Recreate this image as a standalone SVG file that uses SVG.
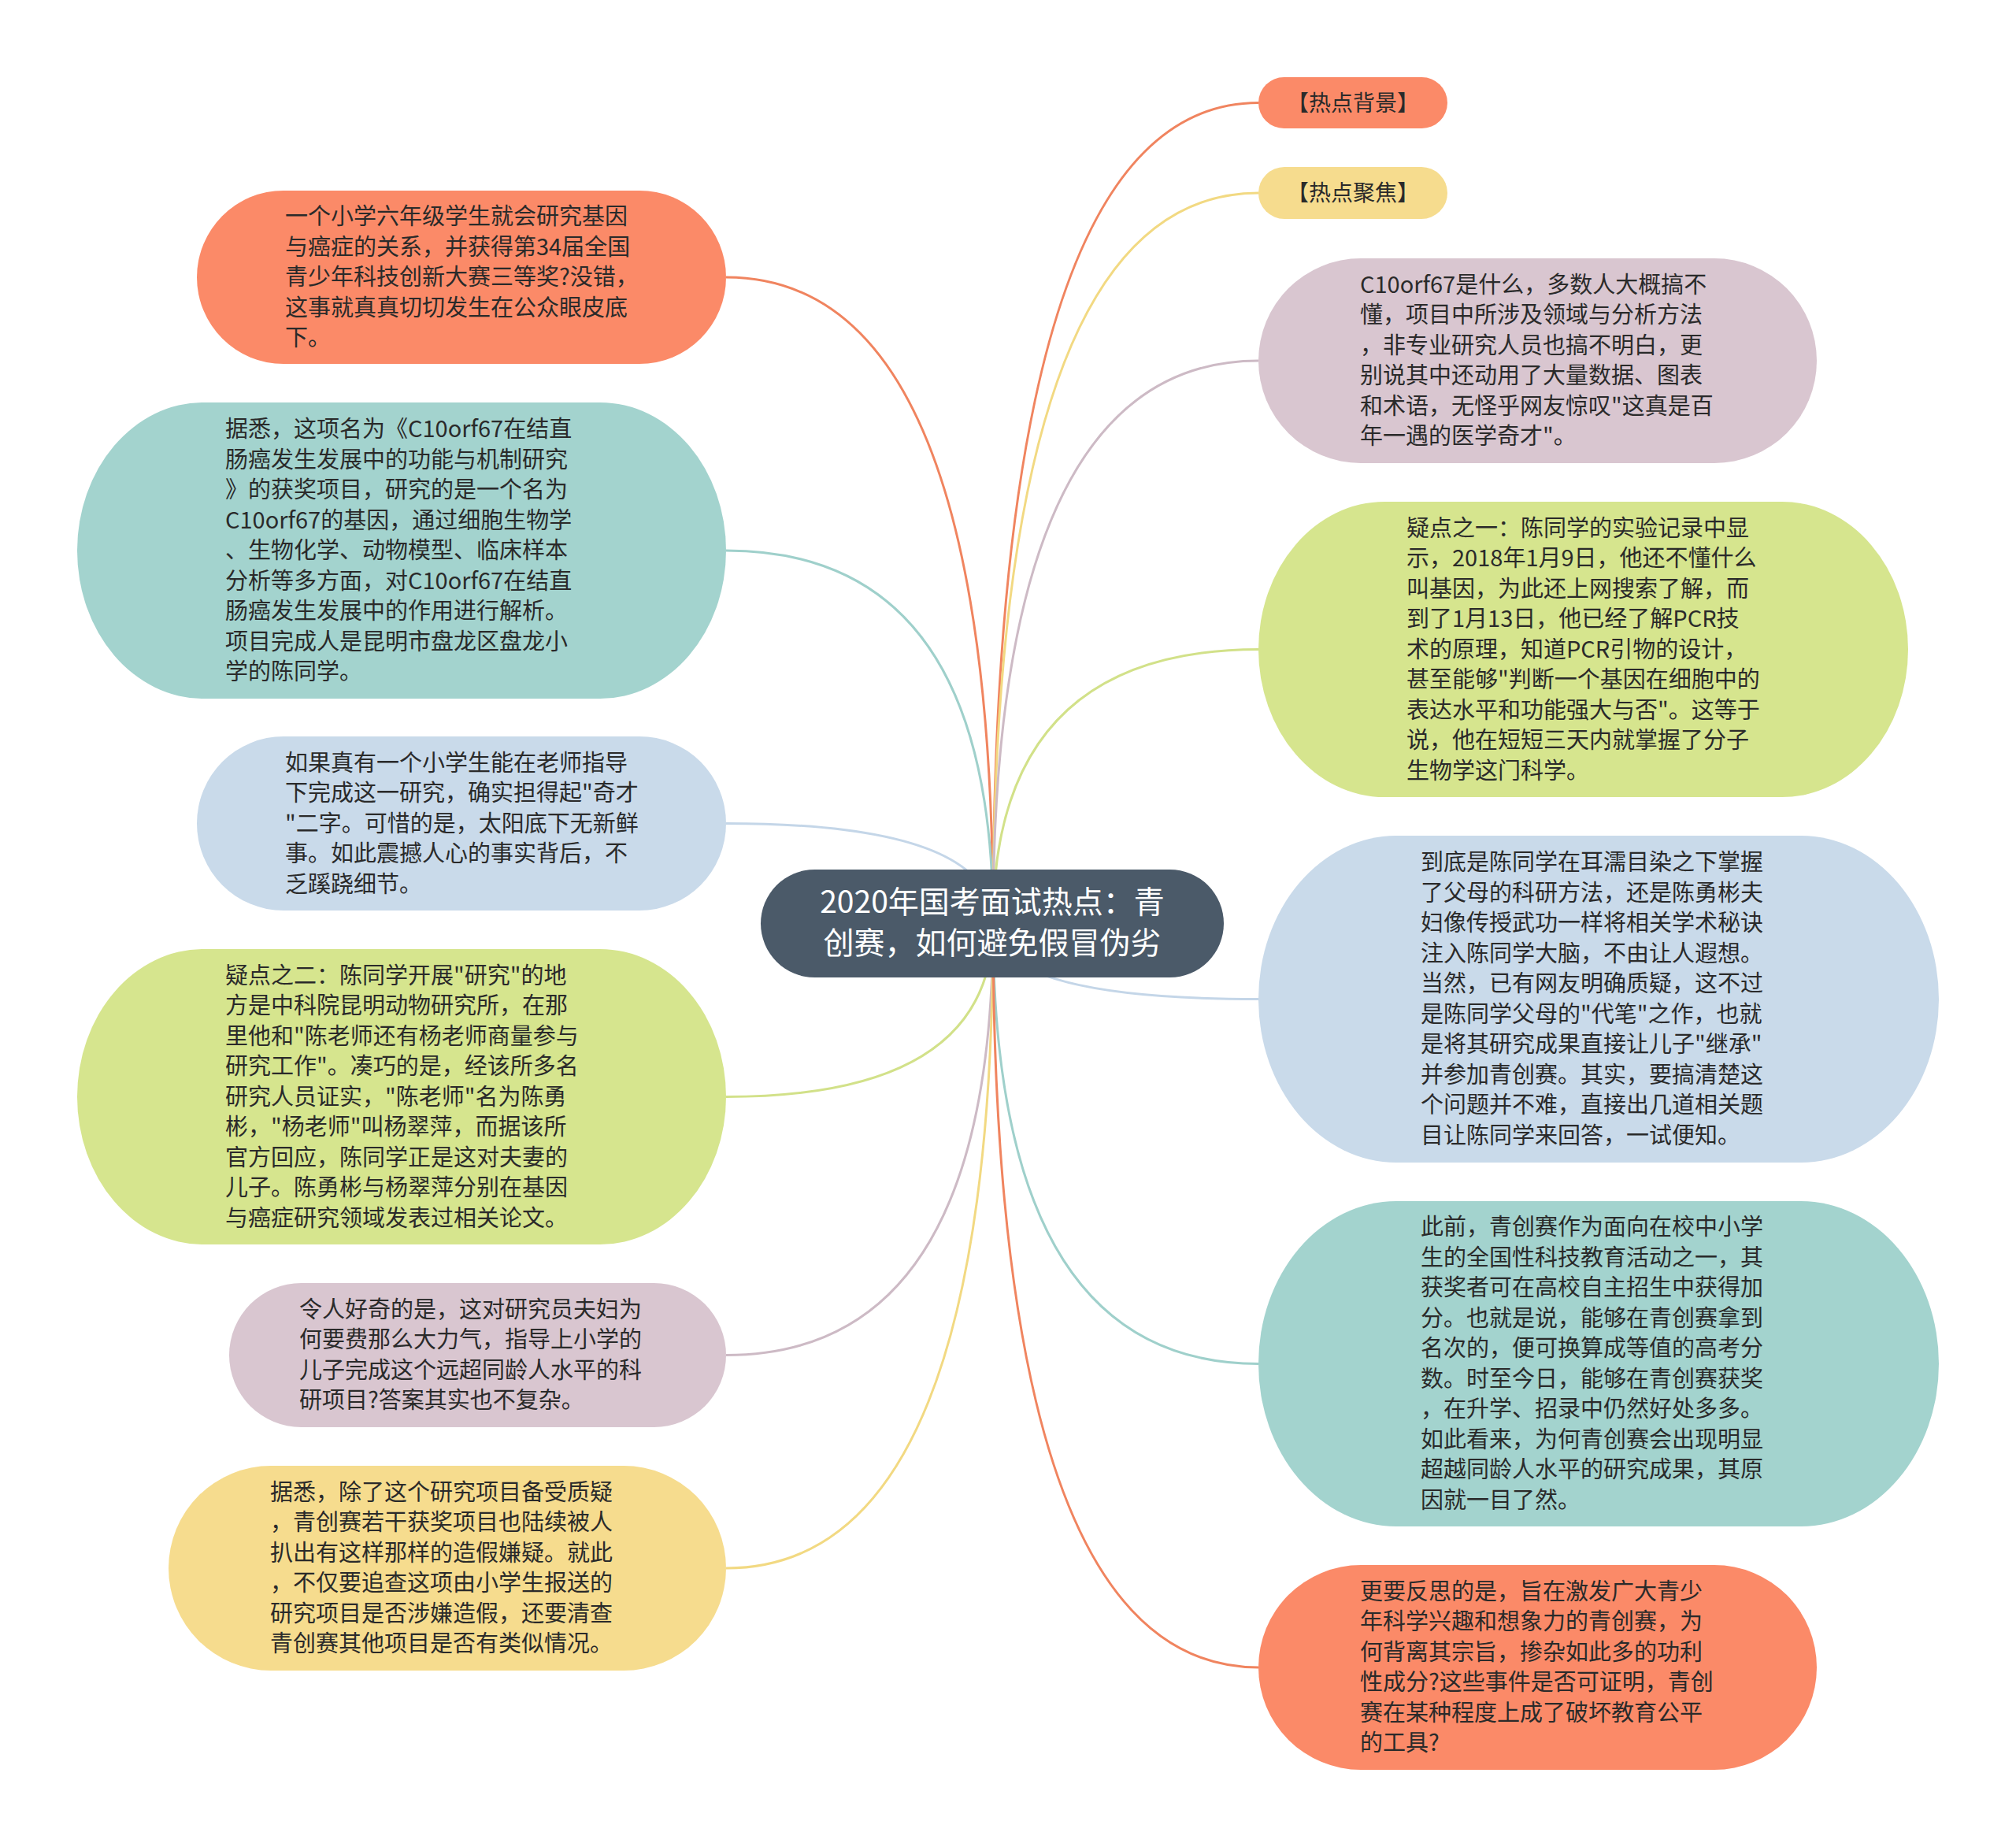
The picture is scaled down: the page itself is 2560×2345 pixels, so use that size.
<svg xmlns="http://www.w3.org/2000/svg" width="2560" height="2345" viewBox="0 0 2560 2345">
<style>
.t{font-family:"Noto Sans CJK SC","Noto Sans",sans-serif;font-size:29px;fill:#2a2a2a}
.tag{font-family:"Noto Sans CJK SC","Noto Sans",sans-serif;font-size:28px;fill:#2a2a2a;text-anchor:middle}
.root{font-family:"Noto Sans CJK SC","Noto Sans",sans-serif;font-size:39px;fill:#ffffff;text-anchor:middle}
.c{fill:none;stroke-width:3}
.or{fill:#FB8A68}.te{fill:#A3D3CE}.bl{fill:#C9DAEA}.gr{fill:#D6E58E}.ma{fill:#D9C6D0}.ye{fill:#F6DC8E}
</style>
<rect width="2560" height="2345" fill="#ffffff"/>
<g id="connectors">
<path class="c" stroke="#F0845F" d="M922 352 Q1261 352 1261 1172"/>
<path class="c" stroke="#9FD0CB" d="M922 699 Q1261 699 1261 1172"/>
<path class="c" stroke="#C4D6E8" d="M922 1045.5 Q1261 1045.5 1261 1172"/>
<path class="c" stroke="#D2E189" d="M922 1392.5 Q1261 1392.5 1261 1172"/>
<path class="c" stroke="#CDBAC5" d="M922 1720.5 Q1261 1720.5 1261 1172"/>
<path class="c" stroke="#F2D982" d="M922 1991 Q1261 1991 1261 1172"/>
<path class="c" stroke="#F0845F" d="M1261 1172 Q1261 130.5 1598 130.5"/>
<path class="c" stroke="#F2D982" d="M1261 1172 Q1261 245 1598 245"/>
<path class="c" stroke="#CDBAC5" d="M1261 1172 Q1261 458 1598 458"/>
<path class="c" stroke="#D2E189" d="M1261 1172 Q1261 824.5 1598 824.5"/>
<path class="c" stroke="#C4D6E8" d="M1261 1172 Q1261 1268.5 1598 1268.5"/>
<path class="c" stroke="#9FD0CB" d="M1261 1172 Q1261 1731.5 1598 1731.5"/>
<path class="c" stroke="#F0845F" d="M1261 1172 Q1261 2117 1598 2117"/>
</g>
<g id="root">
<rect x="966" y="1104" width="588" height="137" rx="68.5" fill="#4B5A69"/>
<text class="root" x="1260" y="1159">2020年国考面试热点：青</text>
<text class="root" x="1260" y="1211">创赛，如何避免假冒伪劣</text>
</g>
<g id="n1">
<rect class="or" x="250" y="242" width="672" height="220" rx="110" ry="110"/>
<text class="t" x="362" y="285"><tspan x="362">一个小学六年级学生就会研究基因</tspan><tspan x="362" dy="38.5">与癌症的关系，并获得第34届全国</tspan><tspan x="362" dy="38.5">青少年科技创新大赛三等奖?没错，</tspan><tspan x="362" dy="38.5">这事就真真切切发生在公众眼皮底</tspan><tspan x="362" dy="38.5">下。</tspan></text>
</g>
<g id="n2">
<rect class="te" x="98" y="511" width="824" height="376" rx="160" ry="188"/>
<text class="t" x="286" y="555"><tspan x="286">据悉，这项名为《C10orf67在结直</tspan><tspan x="286" dy="38.5">肠癌发生发展中的功能与机制研究</tspan><tspan x="286" dy="38.5">》的获奖项目，研究的是一个名为</tspan><tspan x="286" dy="38.5">C10orf67的基因，通过细胞生物学</tspan><tspan x="286" dy="38.5">、生物化学、动物模型、临床样本</tspan><tspan x="286" dy="38.5">分析等多方面，对C10orf67在结直</tspan><tspan x="286" dy="38.5">肠癌发生发展中的作用进行解析。</tspan><tspan x="286" dy="38.5">项目完成人是昆明市盘龙区盘龙小</tspan><tspan x="286" dy="38.5">学的陈同学。</tspan></text>
</g>
<g id="n3">
<rect class="bl" x="250" y="935" width="672" height="221" rx="110" ry="110.5"/>
<text class="t" x="362" y="978.5"><tspan x="362">如果真有一个小学生能在老师指导</tspan><tspan x="362" dy="38.5">下完成这一研究，确实担得起"奇才</tspan><tspan x="362" dy="38.5">"二字。可惜的是，太阳底下无新鲜</tspan><tspan x="362" dy="38.5">事。如此震撼人心的事实背后，不</tspan><tspan x="362" dy="38.5">乏蹊跷细节。</tspan></text>
</g>
<g id="n4">
<rect class="gr" x="98" y="1205" width="824" height="375" rx="160" ry="187.5"/>
<text class="t" x="286" y="1248.5"><tspan x="286">疑点之二：陈同学开展"研究"的地</tspan><tspan x="286" dy="38.5">方是中科院昆明动物研究所，在那</tspan><tspan x="286" dy="38.5">里他和"陈老师还有杨老师商量参与</tspan><tspan x="286" dy="38.5">研究工作"。凑巧的是，经该所多名</tspan><tspan x="286" dy="38.5">研究人员证实，"陈老师"名为陈勇</tspan><tspan x="286" dy="38.5">彬，"杨老师"叫杨翠萍，而据该所</tspan><tspan x="286" dy="38.5">官方回应，陈同学正是这对夫妻的</tspan><tspan x="286" dy="38.5">儿子。陈勇彬与杨翠萍分别在基因</tspan><tspan x="286" dy="38.5">与癌症研究领域发表过相关论文。</tspan></text>
</g>
<g id="n5">
<rect class="ma" x="291" y="1629" width="631" height="183" rx="91.5" ry="91.5"/>
<text class="t" x="380" y="1672.75"><tspan x="380">令人好奇的是，这对研究员夫妇为</tspan><tspan x="380" dy="38.5">何要费那么大力气，指导上小学的</tspan><tspan x="380" dy="38.5">儿子完成这个远超同龄人水平的科</tspan><tspan x="380" dy="38.5">研项目?答案其实也不复杂。</tspan></text>
</g>
<g id="n6">
<rect class="ye" x="214" y="1861" width="708" height="260" rx="130" ry="130"/>
<text class="t" x="343" y="1904.75"><tspan x="343">据悉，除了这个研究项目备受质疑</tspan><tspan x="343" dy="38.5">，青创赛若干获奖项目也陆续被人</tspan><tspan x="343" dy="38.5">扒出有这样那样的造假嫌疑。就此</tspan><tspan x="343" dy="38.5">，不仅要追查这项由小学生报送的</tspan><tspan x="343" dy="38.5">研究项目是否涉嫌造假，还要清查</tspan><tspan x="343" dy="38.5">青创赛其他项目是否有类似情况。</tspan></text>
</g>
<g id="n7">
<rect class="or" x="1598" y="98" width="240" height="65" rx="32.5"/>
<text class="tag" x="1718" y="140.5">【热点背景】</text>
</g>
<g id="n8">
<rect class="ye" x="1598" y="212" width="240" height="66" rx="33"/>
<text class="tag" x="1718" y="255">【热点聚焦】</text>
</g>
<g id="n9">
<rect class="ma" x="1598" y="328" width="709" height="260" rx="130" ry="130"/>
<text class="t" x="1727" y="371.75"><tspan x="1727">C10orf67是什么，多数人大概搞不</tspan><tspan x="1727" dy="38.5">懂，项目中所涉及领域与分析方法</tspan><tspan x="1727" dy="38.5">，非专业研究人员也搞不明白，更</tspan><tspan x="1727" dy="38.5">别说其中还动用了大量数据、图表</tspan><tspan x="1727" dy="38.5">和术语，无怪乎网友惊叹"这真是百</tspan><tspan x="1727" dy="38.5">年一遇的医学奇才"。</tspan></text>
</g>
<g id="n10">
<rect class="gr" x="1598" y="637" width="825" height="375" rx="160" ry="187.5"/>
<text class="t" x="1786" y="680.5"><tspan x="1786">疑点之一：陈同学的实验记录中显</tspan><tspan x="1786" dy="38.5">示，2018年1月9日，他还不懂什么</tspan><tspan x="1786" dy="38.5">叫基因，为此还上网搜索了解，而</tspan><tspan x="1786" dy="38.5">到了1月13日，他已经了解PCR技</tspan><tspan x="1786" dy="38.5">术的原理，知道PCR引物的设计，</tspan><tspan x="1786" dy="38.5">甚至能够"判断一个基因在细胞中的</tspan><tspan x="1786" dy="38.5">表达水平和功能强大与否"。这等于</tspan><tspan x="1786" dy="38.5">说，他在短短三天内就掌握了分子</tspan><tspan x="1786" dy="38.5">生物学这门科学。</tspan></text>
</g>
<g id="n11">
<rect class="bl" x="1598" y="1061" width="864" height="415" rx="175" ry="207.5"/>
<text class="t" x="1804" y="1105.25"><tspan x="1804">到底是陈同学在耳濡目染之下掌握</tspan><tspan x="1804" dy="38.5">了父母的科研方法，还是陈勇彬夫</tspan><tspan x="1804" dy="38.5">妇像传授武功一样将相关学术秘诀</tspan><tspan x="1804" dy="38.5">注入陈同学大脑，不由让人遐想。</tspan><tspan x="1804" dy="38.5">当然，已有网友明确质疑，这不过</tspan><tspan x="1804" dy="38.5">是陈同学父母的"代笔"之作，也就</tspan><tspan x="1804" dy="38.5">是将其研究成果直接让儿子"继承"</tspan><tspan x="1804" dy="38.5">并参加青创赛。其实，要搞清楚这</tspan><tspan x="1804" dy="38.5">个问题并不难，直接出几道相关题</tspan><tspan x="1804" dy="38.5">目让陈同学来回答，一试便知。</tspan></text>
</g>
<g id="n12">
<rect class="te" x="1598" y="1525" width="864" height="413" rx="175" ry="206.5"/>
<text class="t" x="1804" y="1568.25"><tspan x="1804">此前，青创赛作为面向在校中小学</tspan><tspan x="1804" dy="38.5">生的全国性科技教育活动之一，其</tspan><tspan x="1804" dy="38.5">获奖者可在高校自主招生中获得加</tspan><tspan x="1804" dy="38.5">分。也就是说，能够在青创赛拿到</tspan><tspan x="1804" dy="38.5">名次的，便可换算成等值的高考分</tspan><tspan x="1804" dy="38.5">数。时至今日，能够在青创赛获奖</tspan><tspan x="1804" dy="38.5">，在升学、招录中仍然好处多多。</tspan><tspan x="1804" dy="38.5">如此看来，为何青创赛会出现明显</tspan><tspan x="1804" dy="38.5">超越同龄人水平的研究成果，其原</tspan><tspan x="1804" dy="38.5">因就一目了然。</tspan></text>
</g>
<g id="n13">
<rect class="or" x="1598" y="1987" width="709" height="260" rx="130" ry="130"/>
<text class="t" x="1727" y="2030.75"><tspan x="1727">更要反思的是，旨在激发广大青少</tspan><tspan x="1727" dy="38.5">年科学兴趣和想象力的青创赛，为</tspan><tspan x="1727" dy="38.5">何背离其宗旨，掺杂如此多的功利</tspan><tspan x="1727" dy="38.5">性成分?这些事件是否可证明，青创</tspan><tspan x="1727" dy="38.5">赛在某种程度上成了破坏教育公平</tspan><tspan x="1727" dy="38.5">的工具?</tspan></text>
</g>
</svg>
